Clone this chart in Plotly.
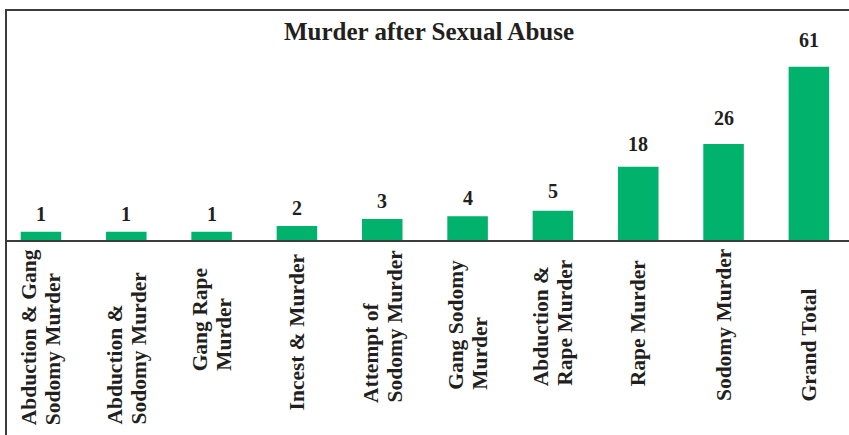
import plotly.graph_objects as go

# ---- data ----
categories = ["Abduction & Gang Sodomy Murder", "Abduction & Sodomy Murder",
              "Gang Rape Murder", "Incest & Murder", "Attempt of Sodomy Murder",
              "Gang Sodomy Murder", "Abduction & Rape Murder", "Rape Murder",
              "Sodomy Murder", "Grand Total"]
tick_labels = ["Abduction & Gang<br>Sodomy Murder", "Abduction &<br>Sodomy Murder",
               "Gang Rape<br>Murder", "Incest & Murder", "Attempt of<br>Sodomy Murder",
               "Gang Sodomy<br>Murder", "Abduction &<br>Rape Murder", "Rape Murder",
               "Sodomy Murder", "Grand Total"]
# printed counts above the bars
counts = [1, 1, 1, 2, 3, 4, 5, 18, 26, 61]
# bar lengths as drawn in the picture (same units, Grand Total = 61)
bar_values = [2.9, 2.9, 2.9, 4.9, 7.4, 8.4, 10.3, 25.8, 33.8, 61]

title_text = "Murder after Sexual Abuse"

# ---- style ----
W, H = 849, 435
TOP, BOTTOM = 10, 240           # plot area in pixels
PLOT_H = BOTTOM - TOP
BAR_COLOR = "#00B26B"
TXT = "#231F20"
LINE = "#3C3C3C"
FONT = "Liberation Serif"
label_bottoms = [427, 427, 373, 412, 405, 392, 388, 388, 403, 403]
value_shifts = [5, 5, 5, 5, 5, 5, 7, 10, 13, 14]
LINE_GAP = 23.5


def py(pix):
    return (BOTTOM - pix) / PLOT_H


ymax = 61 * PLOT_H / 173.3

fig = go.Figure()
fig.add_trace(go.Bar(
    x=categories, y=bar_values, width=0.475,
    marker=dict(color=BAR_COLOR, line=dict(width=0)),
    hoverinfo="skip",
))

annotations = []
for c, v, n, s in zip(categories, bar_values, counts, value_shifts):
    annotations.append(dict(
        x=c, y=v, xref="x", yref="y", text=str(n), showarrow=False,
        xanchor="center", yanchor="bottom", yshift=s,
        font=dict(family=FONT, size=20, color=TXT, weight="bold"),
    ))
for c, lab, b in zip(categories, tick_labels, label_bottoms):
    parts = lab.split("<br>")
    n = len(parts)
    for j, part in enumerate(parts):
        annotations.append(dict(
            x=c, y=py(b), xref="x", yref="paper", text=part, showarrow=False,
            textangle=-90, xanchor="center", yanchor="bottom",
            xshift=(j - (n - 1) / 2) * LINE_GAP,
            font=dict(family=FONT, size=21.5, color=TXT, weight="bold"),
        ))

shapes = [
    # top border
    dict(type="line", xref="paper", yref="paper", x0=6 / W, x1=1.0, y0=py(10), y1=py(10),
         line=dict(color=LINE, width=2)),
    # left border
    dict(type="line", xref="paper", yref="paper", x0=6 / W, x1=6 / W, y0=py(9), y1=py(H + 5),
         line=dict(color=LINE, width=2)),
    # baseline
    dict(type="line", xref="paper", yref="paper", x0=6 / W, x1=1.0, y0=py(241), y1=py(241),
         line=dict(color=LINE, width=2)),
]

fig.update_layout(
    width=W, height=H,
    margin=dict(l=0, r=0, t=TOP, b=H - BOTTOM, pad=0),
    paper_bgcolor="white", plot_bgcolor="white",
    showlegend=False,
    hovermode=False,
    title=dict(text=title_text, x=429 / W, xanchor="center", y=1 - 31 / H, yanchor="middle",
               yref="container",
               font=dict(family=FONT, size=25, color=TXT, weight="bold")),
    xaxis=dict(type="category", categoryorder="array", categoryarray=categories,
               range=[-0.48, 9.47], showticklabels=False, ticks="", showgrid=False,
               zeroline=False, showline=False, fixedrange=True),
    yaxis=dict(range=[0, ymax], visible=False, showgrid=False, zeroline=False, fixedrange=True),
    annotations=annotations,
    shapes=shapes,
    bargap=0.5,
)

fig.write_html(
    "out.html",
    config={"displayModeBar": False, "staticPlot": True},
    post_script="document.body.style.margin='0px';document.body.style.overflow='hidden';",
)
